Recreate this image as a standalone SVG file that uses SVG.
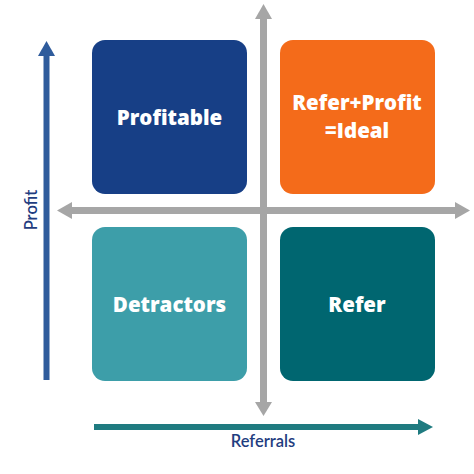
<svg xmlns="http://www.w3.org/2000/svg" width="474" height="474" viewBox="0 0 474 474">
<style>
.box{stroke:none}
.lbl{font-family:"Open Sans","Noto Sans",sans-serif;font-weight:800;font-size:20.5px;fill:#fff;text-anchor:middle}
.ax{font-family:Lato,"Noto Sans",sans-serif;font-weight:600;font-size:16.5px;fill:#1f3d80;text-anchor:middle}
</style>
<rect width="474" height="474" fill="#fff"/>
<g id="connectors">
<rect x="260" y="18" width="7" height="386" fill="#a6a6a6"/>
<polygon points="263.5,4 255,19 272,19" fill="#a6a6a6"/>
<polygon points="263.5,416 255,402 272,402" fill="#a6a6a6"/>
<rect x="70" y="207" width="387" height="7" fill="#a6a6a6"/>
<polygon points="57,210.5 72,202 72,219" fill="#a6a6a6"/>
<polygon points="470,210.5 455,202 455,219" fill="#a6a6a6"/>
<rect x="43.5" y="54" width="6" height="326" fill="#2f5c9c"/>
<polygon points="46.5,41 38,56 55,56" fill="#2f5c9c"/>
<rect x="94" y="424" width="326" height="6" fill="#1f7b80"/>
<polygon points="433,427 418,419 418,435" fill="#1f7b80"/>
</g>
<g id="profitable">
<rect class="box" x="92" y="40" width="155" height="154" rx="13" fill="#173f86"/>
<text class="lbl" x="169.5" y="125">Profitable</text>
</g>
<g id="ideal">
<rect class="box" x="280" y="40" width="155" height="154" rx="13" fill="#f46b1a"/>
<text class="lbl" x="357" y="110">Refer+Profit</text>
<text class="lbl" x="357" y="138">=Ideal</text>
</g>
<g id="detractors">
<rect class="box" x="92" y="227" width="155" height="154" rx="13" fill="#3d9ea9"/>
<text class="lbl" x="169.5" y="312">Detractors</text>
</g>
<g id="refer">
<rect class="box" x="280" y="227" width="155" height="154" rx="13" fill="#006670"/>
<text class="lbl" x="357" y="312">Refer</text>
</g>
<text class="ax" x="263" y="447">Referrals</text>
<text class="ax" transform="translate(37,210) rotate(-90)">Profit</text>
</svg>
